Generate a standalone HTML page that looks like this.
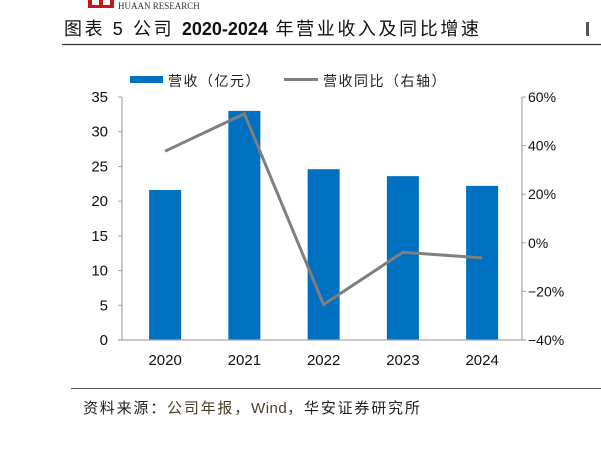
<!DOCTYPE html>
<html><head><meta charset="utf-8"><style>
body{margin:0;background:#fff;}
svg text{font-family:"Liberation Sans","Noto Sans CJK SC",sans-serif;}
</style></head><body>
<svg id="c" width="601" height="458" viewBox="0 0 601 458" xmlns="http://www.w3.org/2000/svg">
<rect x="88" y="0" width="26" height="8" fill="#c8161d"/>
<rect x="92" y="0" width="7" height="5" fill="#fff"/><rect x="103" y="0" width="7" height="5" fill="#fff"/>
<text x="118" y="9" font-size="9" fill="#333" style="font-family:'Liberation Serif',serif">HUAAN RESEARCH</text>
<text x="64" y="35" font-size="18" letter-spacing="2.6" fill="#111">图表 5 公司 <tspan font-weight="bold" letter-spacing="0">2020-2024</tspan> 年营业收入及同比增速</text>
<line x1="62" y1="44.5" x2="601" y2="44.5" stroke="#333" stroke-width="1.2"/>
<rect x="586" y="22" width="3" height="14" fill="#555"/>
<g>
<rect x="130" y="76" width="33" height="7" fill="#0070c0"/>
<text x="168" y="86" font-size="14" letter-spacing="1.5" fill="#222">营收（亿元）</text>
<line x1="284" y1="79.5" x2="318" y2="79.5" stroke="#7f7f7f" stroke-width="3"/>
<text x="323" y="86" font-size="14" letter-spacing="1.5" fill="#222">营收同比（右轴）</text>
</g>
<g id="plot"></g>
<line x1="71" y1="388.5" x2="601" y2="388.5" stroke="#555" stroke-width="1"/>
<text x="83" y="413" font-size="15" letter-spacing="1.8" fill="#222">资料来源：<tspan fill="#4a3f2a">公司年报，<tspan letter-spacing="0.5">Wind</tspan>，</tspan>华安证券研究所</text>
</svg>
<script>
const categories=["2020","2021","2022","2023","2024"];
const revenue=[21.6,33.0,24.6,23.6,22.2];
const growth=[37.7,53.1,-25.4,-3.9,-6.2];
const leftTicks=[0,5,10,15,20,25,30,35];
const rightTicks=[-40,-20,0,20,40,60];
const ns="http://www.w3.org/2000/svg";
const g=document.getElementById('plot');
const X0=125.5,BAND=79.25,YB=340,YT=97,AL=122,AR=522;
const xC=i=>X0+BAND*(i+0.5);
const yL=v=>YB-(v/35)*(YB-YT);
const yR=v=>YB-((v+40)/100)*(YB-YT);
function mk(t,a){const e=document.createElementNS(ns,t);for(const k in a)e.setAttribute(k,a[k]);g.appendChild(e);return e;}
revenue.forEach((v,i)=>{const r=mk('rect',{x:xC(i)-16,y:yL(v),width:32,height:YB-yL(v),fill:'#0070c0'});

});
let a=mk('line',{x1:AL,y1:YT,x2:AL,y2:YB,stroke:'#a6a6a6','stroke-width':1.2});


a=mk('line',{x1:AR,y1:YT,x2:AR,y2:YB,stroke:'#a6a6a6','stroke-width':1.2});


a=mk('line',{x1:AL-4,y1:YB,x2:AR+4,y2:YB,stroke:'#a6a6a6','stroke-width':1.2});


leftTicks.forEach(v=>{mk('line',{x1:AL-4,y1:yL(v),x2:AL,y2:yL(v),stroke:'#a6a6a6'});
const t=mk('text',{x:AL-14,y:yL(v)+5,'font-size':15,'text-anchor':'end',fill:'#111'});t.textContent=v;

});
rightTicks.forEach(v=>{mk('line',{x1:AR,y1:yR(v),x2:AR+4,y2:yR(v),stroke:'#a6a6a6'});
const t=mk('text',{x:AR+6,y:yR(v)+5,'font-size':14,fill:'#111'});t.textContent=(v<0?'−':'')+Math.abs(v)+'%';

});
categories.forEach((c,i)=>{const t=mk('text',{x:xC(i),y:365,'font-size':15,'text-anchor':'middle',fill:'#111'});t.textContent=c;

});
const pl=mk('polyline',{points:growth.map((v,i)=>xC(i)+','+yR(v)).join(' '),fill:'none',stroke:'#7f7f7f','stroke-width':3,'stroke-linejoin':'miter'});


</script>
</body></html>
